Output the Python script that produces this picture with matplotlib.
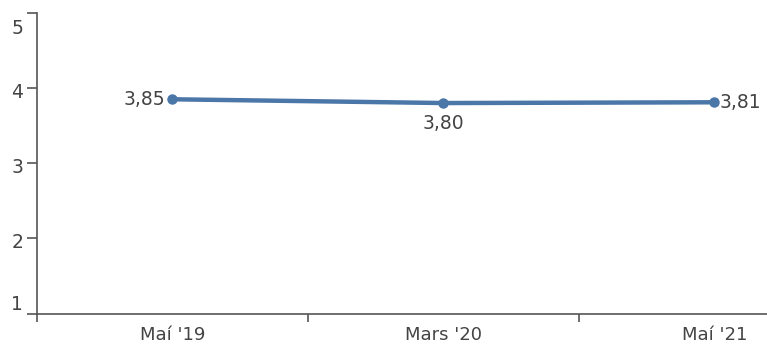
import matplotlib.pyplot as plt
import matplotlib.transforms as mtransforms
import numpy as np

# Data
categories = ["Maí '19", "Mars '20", "Maí '21"]
values = [3.85, 3.80, 3.81]
value_labels = ["3,85", "3,80", "3,81"]
y_ticks = [1, 2, 3, 4, 5]

line_color = "#4a76a8"
text_color = "#444444"
axis_color = "#555555"

fig = plt.figure(figsize=(7.67, 3.47), dpi=100)
ax = fig.add_axes([0.0482, 0.0965, 0.9518, 0.8665])

x = np.arange(len(categories))
ax.plot(x, values, color=line_color, linewidth=3.2, marker="o", markersize=6.5,
        solid_capstyle="round")

# value labels: left, below, right
ax.annotate(value_labels[0], (x[0], values[0]), xytext=(-5, 0), textcoords="offset points",
            ha="right", va="center", fontsize=13.5, color=text_color)
ax.annotate(value_labels[1], (x[1], values[1]), xytext=(0, -8), textcoords="offset points",
            ha="center", va="top", fontsize=13.5, color=text_color)
ax.annotate(value_labels[2], (x[2], values[2]), xytext=(4, 0), textcoords="offset points",
            ha="left", va="center", fontsize=13.5, color=text_color)

ax.set_ylim(1, 5)
ax.set_xlim(-0.5, 2.194)
ax.set_yticks(y_ticks)
ax.set_yticklabels([str(t) for t in y_ticks])

ax.set_xticks(x)
ax.set_xticklabels(categories)
ax.set_xticks([-0.5, 0.5, 1.5], minor=True)
ax.tick_params(axis="x", which="major", length=0, pad=9, labelsize=13, colors=text_color)
ax.tick_params(axis="x", which="minor", length=6, width=1.2, color=axis_color, direction="out")
ax.tick_params(axis="y", length=7, width=1.2, color=axis_color, labelsize=13.5,
               labelcolor=text_color, pad=3)

# nudge the end labels inside the axis range, others slightly down
shifts = {1: 8, 5: -10}
for t, lab in zip(y_ticks, ax.get_yticklabels()):
    dy = shifts.get(t, -1.5)
    lab.set_transform(lab.get_transform() +
                      mtransforms.ScaledTranslation(0, dy / 72, fig.dpi_scale_trans))

for side in ["top", "right"]:
    ax.spines[side].set_visible(False)
for side in ["left", "bottom"]:
    ax.spines[side].set_color(axis_color)
    ax.spines[side].set_linewidth(1.2)

fig.savefig("out.png", dpi=100)
